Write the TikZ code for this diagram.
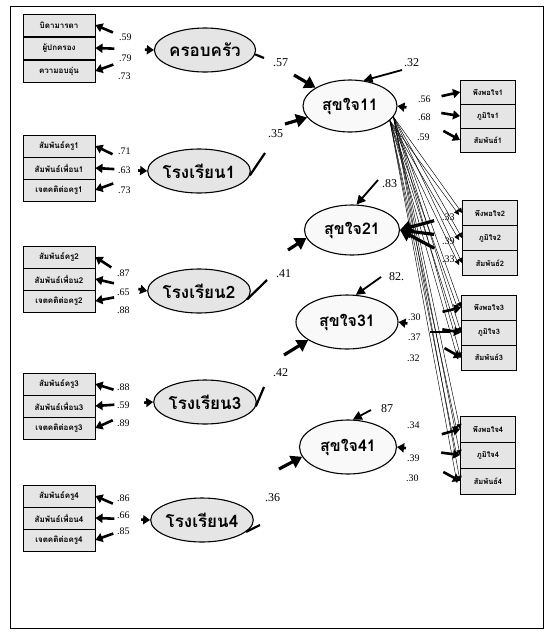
\documentclass[tikz,border=0pt]{standalone}
\usepackage{fontspec}
\setmainfont{Liberation Serif}
\newfontfamily\thai[Script=Thai]{Loma}
\usetikzlibrary{shapes.geometric,arrows.meta,calc}
\begin{document}
\begin{tikzpicture}[x=1pt,y=-1pt,
 latent/.style={ellipse,draw,line width=1.1pt,fill=gray!20,minimum width=100pt,minimum height=44pt,inner sep=0pt,font=\thai\bfseries\fontsize{17}{17}\selectfont},
 happy/.style={latent,fill=gray!5,font=\thai\bfseries\fontsize{16}{16}\selectfont},
 ind/.style={rectangle,draw,line width=0.9pt,fill=gray!20,minimum width=72pt,minimum height=22pt,inner sep=0pt,font=\thai\bfseries\fontsize{8}{8}\selectfont},
 indr/.style={ind,minimum width=55pt,minimum height=25pt,font=\thai\bfseries\fontsize{7.5}{7.5}\selectfont},
 num/.style={inner sep=0pt,anchor=west,font=\fontsize{10}{10}\selectfont},
 coef/.style={inner sep=0pt,anchor=west,font=\fontsize{12}{12}\selectfont},
 fat/.style={line width=2.6pt,-{Triangle[length=7pt,width=9pt]}},
 big/.style={line width=3.2pt,-{Triangle[length=11pt,width=13pt]}},
 var/.style={line width=1.8pt,-{Triangle[length=9pt,width=9pt]}},
 thin/.style={line width=0.45pt,-{Triangle[length=5pt,width=5pt]}},
 stub/.style={line width=2.2pt},
]
\useasboundingbox (0,0) rectangle (555,641);
\draw[line width=1pt] (10,6) rectangle (543,628);

% ---------- left groups ----------
\node[ind] (a1) at (59,25) {บิดามารดา};
\node[ind] (a2) at (59,48) {ผู้ปกครอง};
\node[ind] (a3) at (59,71) {ความอบอุ่น};
\node[latent] (L1) at (205,50) {ครอบครัว};

\node[ind] (b1) at (59,146) {สัมพันธ์ครู1};
\node[ind] (b2) at (59,168) {สัมพันธ์เพื่อน1};
\node[ind] (b3) at (59,190) {เจตคติต่อครู1};
\node[latent] (L2) at (199,171) {โรงเรียน1};

\node[ind] (c1) at (59,257) {สัมพันธ์ครู2};
\node[ind] (c2) at (59,279) {สัมพันธ์เพื่อน2};
\node[ind] (c3) at (59,301) {เจตคติต่อครู2};
\node[latent] (L3) at (199,291) {โรงเรียน2};

\node[ind] (d1) at (59,384) {สัมพันธ์ครู3};
\node[ind] (d2) at (59,406) {สัมพันธ์เพื่อน3};
\node[ind] (d3) at (59,428) {เจตคติต่อครู3};
\node[latent] (L4) at (205,402) {โรงเรียน3};

\node[ind] (e1) at (59,496) {สัมพันธ์ครู4};
\node[ind] (e2) at (59,518) {สัมพันธ์เพื่อน4};
\node[ind] (e3) at (59,540) {เจตคติต่อครู4};
\node[latent] (L5) at (202,520) {โรงเรียน4};

\foreach \g/\L in {a/L1,b/L2,c/L3,d/L4,e/L5}{
  \foreach \r in {1,2,3}{
    \draw[fat] ($(\g\r.east)!19pt!(\L.west)$) -- (\g\r.east);
  }
  \draw[fat] ($(\L.west)!9pt!(\g2.east)$) -- (\L.west);
}

% ---------- right latent ----------
\node[happy,minimum width=94pt,minimum height=52pt] (R1) at (350,106) {สุขใจ11};
\node[happy,minimum width=95pt,minimum height=50pt] (R2) at (352,230) {สุขใจ21};
\node[happy,minimum width=102pt,minimum height=54pt] (R3) at (347,322) {สุขใจ31};
\node[happy,minimum width=97pt,minimum height=54pt] (R4) at (348,447) {สุขใจ41};

% path coefficients (the scan shows only the two ends of each line)
\coordinate (s1) at (264,58);
\coordinate (s2) at (265,153);
\coordinate (s3) at (267,280);
\coordinate (s4) at (264,387);
\coordinate (s5) at (260,525);
\draw[stub] (L1.-5) -- (s1);
\draw[stub] (L2.-5) -- (s2);
\draw[stub] (L3.-10) -- (s3);
\draw[stub] (L4.-5) -- (s4);
\draw[stub] (L5.-15) -- (s5);
\coordinate (t1) at (294,75);
\coordinate (t2) at (285,124);
\coordinate (t3) at (288,250);
\coordinate (t4) at (284,355);
\coordinate (t5) at (279,469);
\draw[big] (t1) -- (R1.152);
\draw[big] (t2) -- (R1.195);
\draw[big] (t3) -- (R2.190);
\draw[big] (t4) -- (R3.205);
\draw[big] (t5) -- (R4.192);

% disturbance arrows
\coordinate (z1) at (402,70);
\coordinate (z2) at (378,180);
\coordinate (z3) at (381,277);
\coordinate (z4) at (371,410);
\draw[var] (z1) -- (R1.62);
\draw[var] (z2) -- (R2.80);
\draw[var] (z3) -- (R3.72);
\draw[var] (z4) -- (R4.80);

% ---------- right indicators ----------
\node[indr,minimum height=24pt] (f1) at (488,92) {พึงพอใจ1};
\node[indr,minimum height=24pt] (f2) at (488,116) {ภูมิใจ1};
\node[indr,minimum height=24pt] (f3) at (488,140) {สัมพันธ์1};

\node[indr] (g1) at (490,213) {พึงพอใจ2};
\node[indr] (g2) at (490,238) {ภูมิใจ2};
\node[indr] (g3) at (490,263) {สัมพันธ์2};

\node[indr] (h1) at (489,307.5) {พึงพอใจ3};
\node[indr] (h2) at (489,332.5) {ภูมิใจ3};
\node[indr] (h3) at (489,357.5) {สัมพันธ์3};

\node[indr,minimum height=26pt] (k1) at (488,429) {พึงพอใจ4};
\node[indr,minimum height=26pt] (k2) at (488,455) {ภูมิใจ4};
\node[indr,minimum height=26pt] (k3) at (488,481) {สัมพันธ์4};

% paths fanning out from สุขใจ11
\coordinate (fan) at (R1.-14);
\coordinate (fanb) at (R1.-20);
\foreach \t in {g1,g2,g3,h1,h2,h3,k1,k2,k3}{
  \draw[thin] (fan) -- (\t.west);
  \draw[thin] (fanb) -- ($(\t.west)+(-3,2)$);
}

\foreach \g/\R in {f/R1,h/R3,k/R4}{
  \foreach \r in {1,2,3}{
    \draw[fat] ($(\g\r.west)!19pt!(\R.east)$) -- (\g\r.west);
  }
  \draw[fat] ($(\R.east)!9pt!(\g2.west)$) -- (\R.east);
}
% heavy heads into สุขใจ21
\foreach \r in {1,2,3}{
  \draw[big] ($(R2.east)!0.55!(g\r.west)$) -- (R2.east);
}
\coordinate (hb) at (450,332);
\draw[line width=2.6pt] (hb) -- ++(-20,0);

% ---------- numbers ----------
\node[num] (na1) at (119,37) {.59};
\node[num] (na2) at (119,58) {.79};
\node[num] (na3) at (118,76) {.73};
\node[num] (nb1) at (118,151) {.71};
\node[num] (nb2) at (118,170) {.63};
\node[num] (nb3) at (118,190) {.73};
\node[num] (nc1) at (117,273) {.87};
\node[num] (nc2) at (117,292) {.65};
\node[num] (nc3) at (117,310) {.88};
\node[num] (nd1) at (117,387) {.88};
\node[num] (nd2) at (117,405) {.59};
\node[num] (nd3) at (117,423) {.89};
\node[num] (ne1) at (117,498) {.86};
\node[num] (ne2) at (117,515) {.66};
\node[num] (ne3) at (117,531) {.85};

\node[coef] (p1) at (273,63) {.57};
\node[coef] (p2) at (268,134) {.35};
\node[coef] (p3) at (276,274) {.41};
\node[coef] (p4) at (273,373) {.42};
\node[coef] (p5) at (265,498) {.36};

\node[coef] (v1) at (404,63) {.32};
\node[coef] (v2) at (382,184) {.83};
\node[coef] (v3) at (389,277) {82.};
\node[coef] (v4) at (381,409) {87};

\node[num] (nf1) at (418,99) {.56};
\node[num] (nf2) at (418,117) {.68};
\node[num] (nf3) at (417,137) {.59};
\node[num] (ng1) at (442,217) {.33};
\node[num] (ng2) at (442,241) {.39};
\node[num] (ng3) at (442,259) {.33};
\node[num] (nh1) at (408,317) {.30};
\node[num] (nh2) at (408,337) {.37};
\node[num] (nh3) at (407,358) {.32};
\node[num] (nk1) at (407,425) {.34};
\node[num] (nk2) at (407,458) {.39};
\node[num] (nk3) at (406,478) {.30};
\end{tikzpicture}
\end{document}
